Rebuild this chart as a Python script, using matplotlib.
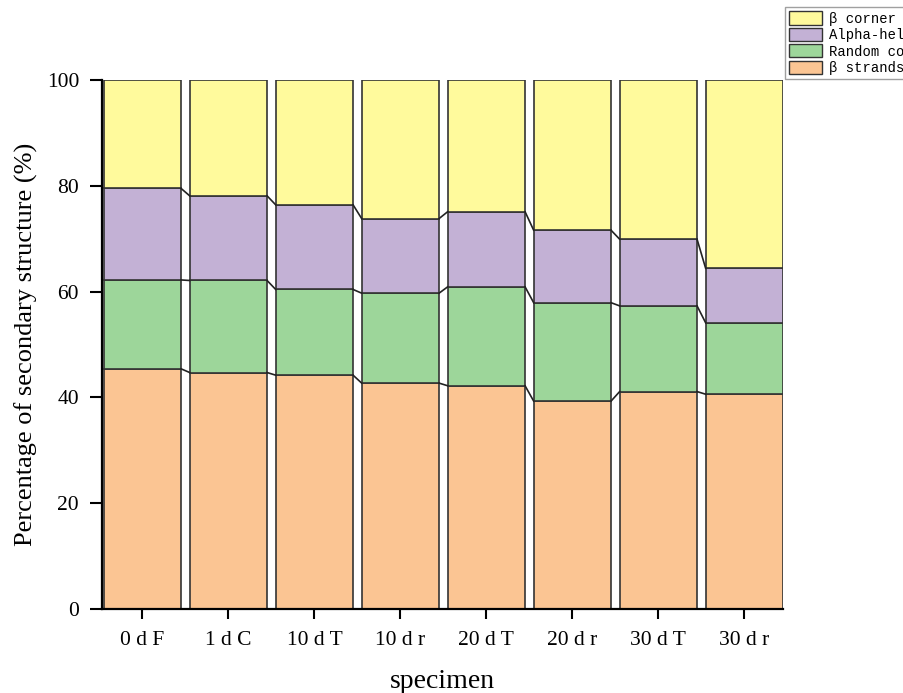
import numpy as np
import matplotlib.pyplot as plt
from matplotlib.patches import Patch

# data
specimens = ['0 d F', '1 d C', '10 d T', '10 d r', '20 d T', '20 d r', '30 d T', '30 d r']
strands = [45.4, 44.7, 44.2, 42.7, 42.2, 39.3, 41.1, 40.6]
random_coil = [16.8, 17.4, 16.2, 17.0, 18.7, 18.6, 16.2, 13.5]
alpha_helix = [17.3, 16.0, 16.0, 14.1, 14.2, 13.7, 12.6, 10.3]
corner = [20.5, 21.9, 23.6, 26.2, 24.9, 28.4, 30.1, 35.6]

# legend labels as they show in the picture (cut at the right edge)
names = ['\u03b2 strands', 'Random co', 'Alpha-hel', '\u03b2 corner']
colors = ['#FBC593', '#9DD69A', '#C3B1D5', '#FFFA9C']
series = [strands, random_coil, alpha_helix, corner]

plt.rcParams['font.family'] = ['Liberation Serif', 'DejaVu Serif']

fig = plt.figure(figsize=(9.04, 6.93), dpi=100)
ax = fig.add_axes([0.1128, 0.1212, 0.7534, 0.7634])

x = np.arange(len(specimens))
w = 0.9
bottom = np.zeros(len(specimens))
for vals, c in zip(series, colors):
    ax.bar(x, vals, w, bottom=bottom, color=c, edgecolor='#333333', linewidth=1.2, zorder=2)
    bottom = bottom + np.array(vals)
    # connecting lines between neighbouring bars
    if bottom[0] < 99.9:
        for i in range(len(x) - 1):
            ax.plot([x[i] + w / 2, x[i + 1] - w / 2], [bottom[i], bottom[i + 1]],
                    color='#222222', lw=1.2, zorder=3)

ax.set_xlim(-0.47, 7.45)
ax.set_ylim(0, 100)
ax.set_xticks(x)
ax.set_xticklabels(specimens)
ax.set_yticks([0, 20, 40, 60, 80, 100])
ax.tick_params(axis='both', labelsize=15.5, width=1.5, direction='out')
ax.tick_params(axis='x', pad=8, length=7.5)
ax.tick_params(axis='y', pad=8, length=8.5)
for s in ['top', 'right']:
    ax.spines[s].set_visible(False)
for s in ['left', 'bottom']:
    ax.spines[s].set_linewidth(1.6)

ax.set_xlabel('specimen', fontsize=20, labelpad=14)
ax.set_ylabel('Percentage of secondary structure (%)', fontsize=19, labelpad=6)

handles = [Patch(facecolor=c, edgecolor='#333333', linewidth=1.0, label=n)
           for n, c in zip(names, colors)]
fig.legend(handles=handles[::-1], loc='upper left', bbox_to_anchor=(785 / 904, 1 - 7 / 693),
           prop={'family': ['Liberation Mono', 'DejaVu Sans Mono'], 'size': 10},
           frameon=True, fancybox=False, edgecolor='#888888', borderpad=0.3,
           labelspacing=0.15, handlelength=2.4, handleheight=1.1, handletextpad=0.5,
           borderaxespad=0)

fig.savefig('out.png', dpi=100)
